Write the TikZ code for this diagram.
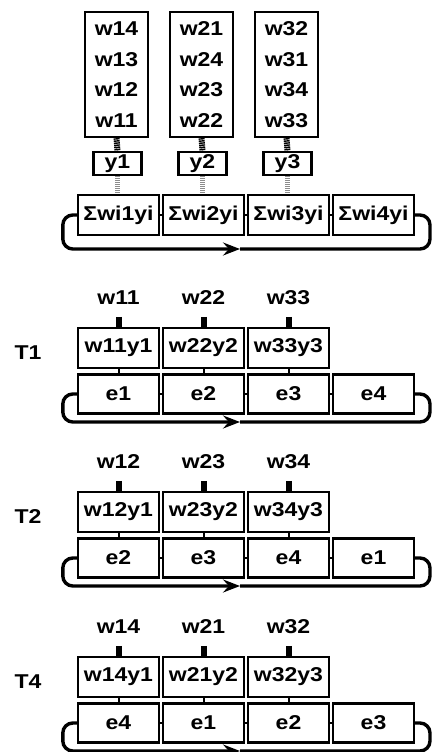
\documentclass[tikz,border=0pt]{standalone}
\usepackage{fontspec}
\setmainfont[FakeStretch=1.15]{Liberation Sans}
\usetikzlibrary{arrows.meta}
\begin{document}
\begin{tikzpicture}[x=1pt,y=-1pt,
  font=\fontsize{20}{30.5}\selectfont\bfseries,
  bx/.style={draw, line width=2.4pt, inner sep=0pt, minimum width=81pt, minimum height=39pt},
  wbox/.style={draw, line width=2.4pt, inner sep=0pt, minimum width=63pt, minimum height=125pt, align=center},
  ybox/.style={draw, line width=2.4pt, inner sep=0pt, minimum width=48pt, minimum height=23pt},
  lbl/.style={inner sep=0pt},
  conn/.style={line width=6pt, dash pattern=on 1.4pt off 0.7pt},
  tconn/.style={line width=6pt},
  thinconn/.style={line width=5pt, black!45, dash pattern=on 1pt off 1pt},
  gapconn/.style={line width=2pt},
  loopline/.style={line width=3.4pt, rounded corners=10pt},
  tip/.style={-{Stealth[length=17pt,width=13pt,inset=6pt]}}
]
\useasboundingbox (0,0) rectangle (433,752);

% ---- top section ----
\node[wbox] (w1) at (116.5,74.5) {w14\\w13\\w12\\w11};
\node[wbox] (w2) at (201.5,74.5) {w21\\w24\\w23\\w22};
\node[wbox] (w3) at (286.5,74.5) {w32\\w31\\w34\\w33};
\node[ybox] (y1) at (117.5,163.5) {y1};
\node[ybox] (y2) at (202.5,163.5) {y2};
\node[ybox] (y3) at (287.5,163.5) {y3};
\node[bx, minimum height=40pt] (s1) at (118.5,215) {Σwi1yi};
\node[bx, minimum height=40pt] (s2) at (203.5,215) {Σwi2yi};
\node[bx, minimum height=40pt] (s3) at (288.5,215) {Σwi3yi};
\node[bx, minimum height=40pt] (s4) at (373.5,215) {Σwi4yi};
\foreach \i in {1,2,3} {
  \draw[conn] (w\i.south) -- (y\i.north);
  \draw[thinconn] (y\i.south) -- (y\i.south |- s\i.north);
}
\draw[gapconn] (s1.east) -- (s2.west);
\draw[gapconn] (s2.east) -- (s3.west);
\draw[gapconn] (s3.east) -- (s4.west);
\coordinate (a0) at (240,249);
\draw[loopline,tip] (s1.west) -| ++(-14,34) -- (a0);
\draw[loopline] (a0) -- (430,249) |- (s4.east);

% ---- T sections ----
\foreach \k/\P/\T/\la/\lb/\lc/\ea/\eb/\ec/\ed in {
  1/328/T1/w11/w22/w33/e1/e2/e3/e4,
  2/492/T2/w12/w23/w34/e2/e3/e4/e1,
  4/657/T4/w14/w21/w32/e4/e1/e2/e3} {
  \node[lbl] (t\k) at (28,{\P+25}) {\T};
  \node[lbl] (l\k1) at (118.5,{\P-30}) {\la};
  \node[lbl] (l\k2) at (203.5,{\P-30}) {\lb};
  \node[lbl] (l\k3) at (288.5,{\P-30}) {\lc};
  \node[bx, minimum height=40pt] (p\k1) at (118.5,{\P+20}) {\la y1};
  \node[bx, minimum height=40pt] (p\k2) at (203.5,{\P+20}) {\lb y2};
  \node[bx, minimum height=40pt] (p\k3) at (288.5,{\P+20}) {\lc y3};
  \node[bx] (e\k1) at (118.5,{\P+66}) {\ea};
  \node[bx] (e\k2) at (203.5,{\P+66}) {\eb};
  \node[bx] (e\k3) at (288.5,{\P+66}) {\ec};
  \node[bx] (e\k4) at (373.5,{\P+66}) {\ed};
  \foreach \i in {1,2,3} {
    \draw[tconn] ([yshift=10pt]p\k\i.north) -- (p\k\i.north);
    \draw[gapconn] (p\k\i.south) -- (e\k\i.north);
  }
  \draw[gapconn] (e\k1.east) -- (e\k2.west);
  \draw[gapconn] (e\k2.east) -- (e\k3.west);
  \draw[gapconn] (e\k3.east) -- (e\k4.west);
  \coordinate (a\k) at (240,{\P+94});
  \draw[loopline,tip] (e\k1.west) -| ++(-14,28) -- (a\k);
  \draw[loopline] (a\k) -- (430,{\P+94}) |- (e\k4.east);
}
\end{tikzpicture}
\end{document}
